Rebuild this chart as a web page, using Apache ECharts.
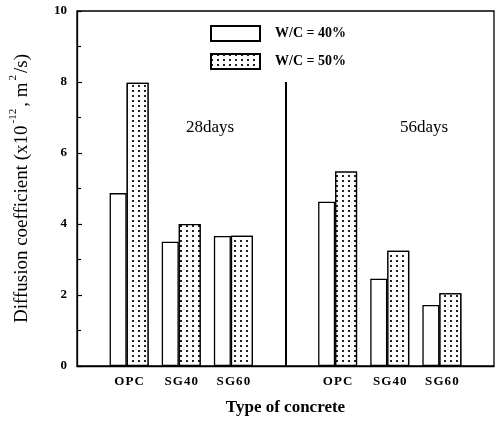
<!DOCTYPE html>
<html><head><meta charset="utf-8">
<script src="https://cdn.jsdelivr.net/npm/echarts@6/dist/echarts.min.js"></script>
<style>html,body{margin:0;padding:0;background:#fff}#c{width:499px;height:421px}</style>
</head><body><div id="c"></div>
<script>
const categories = ['', 'OPC', 'SG40', 'SG60', '', 'OPC', 'SG40', 'SG60', ''];
const wc40 = [null, 4.87, 3.5, 3.66, null, 4.63, 2.46, 1.72, null];
const wc50 = [null, 7.98, 4.0, 3.67, null, 5.48, 3.25, 2.05, null];
const seriesNames = ['W/C = 40%', 'W/C = 50%'];
const yTicks = [0, 2, 4, 6, 8, 10];
const dividerIndex = 4, dividerTop = 8;
const periodLabels = ['28days', '56days'];

const serif = '"Liberation Serif", "DejaVu Serif", serif';
const chart = echarts.init(document.getElementById('c'));
chart.setOption({
  animation: false,
  backgroundColor: '#fff',
  grid: { left: 77, right: 5, top: 11, bottom: 54, show: true, borderColor: '#000', borderWidth: 1.3, backgroundColor: 'transparent' },
  legend: {
    orient: 'vertical', left: 210, top: 25, itemWidth: 49, itemHeight: 15, itemGap: 11,
    icon: 'rect', padding: 0,
    textStyle: { fontFamily: serif, fontWeight: 'bold', fontSize: 14, color: '#000', padding: [0, 0, 0, 10] },
    data: seriesNames
  },
  xAxis: {
    type: 'category', data: categories, boundaryGap: false,
    axisLine: { lineStyle: { color: '#000', width: 1.3 } },
    axisTick: { show: false },
    axisLabel: { fontFamily: serif, fontWeight: 'bold', fontSize: 13, color: '#000', margin: 9,
      interval: 0, formatter: v => v.split('').join('\u200A') },
    name: 'Type of concrete', nameLocation: 'middle', nameGap: 33,
    nameTextStyle: { fontFamily: serif, fontWeight: 'bold', fontSize: 17, color: '#000' }
  },
  yAxis: {
    type: 'value', min: yTicks[0], max: yTicks[yTicks.length - 1], interval: 2,
    axisLine: { show: true, lineStyle: { color: '#000', width: 1.3 } },
    axisTick: { show: true, inside: true, length: 5, lineStyle: { color: '#000', width: 1.2 } },
    minorTick: { show: true, splitNumber: 2, length: 4, lineStyle: { color: '#000', width: 1.2 } },
    splitLine: { show: false },
    axisLabel: { fontFamily: serif, fontWeight: 'bold', fontSize: 13, color: '#000', margin: 10 },
    name: '{a|Diffusion coefficient (x10}{s|-12}{a|, m}{s|2}{a|/s)}',
    nameLocation: 'middle', nameGap: 45, nameRotate: 90,
    nameTextStyle: {
      rich: {
        a: { fontFamily: serif, fontSize: 19, color: '#000', lineHeight: 24, verticalAlign: 'bottom' },
        s: { fontFamily: serif, fontSize: 11, color: '#000', lineHeight: 24, verticalAlign: 'top', padding: [0, 2, 9, 2] }
      }
    }
  },
  series: [
    {
      name: seriesNames[0], type: 'bar', data: wc40, barWidth: 17, barGap: '0%',
      itemStyle: { color: '#fff', borderColor: '#000', borderWidth: 1.3 }
    },
    {
      name: seriesNames[1], type: 'bar', data: wc50, barWidth: 22, barGap: '0%',
      itemStyle: { color: '#fff', borderColor: '#000', borderWidth: 1.3,
        decal: { symbol: 'rect', symbolSize: 1, color: '#222', backgroundColor: '#fff',
          dashArrayX: [[1.4, 3.6]], dashArrayY: [1.4, 3], rotation: 0 } }
    },
    {
      name: 'divider', type: 'line', data: [], silent: true,
      markLine: {
        symbol: 'none', silent: true, label: { show: false },
        lineStyle: { color: '#000', width: 2, type: 'solid' },
        data: [[{ coord: [dividerIndex, 0] }, { coord: [dividerIndex, dividerTop] }]]
      }
    }
  ],
  graphic: [
    { type: 'text', left: 186, top: 119, style: { text: periodLabels[0], font: '17px ' + serif, fill: '#000' } },
    { type: 'text', left: 400, top: 119, style: { text: periodLabels[1], font: '17px ' + serif, fill: '#000' } }
  ]
});
</script></body></html>
